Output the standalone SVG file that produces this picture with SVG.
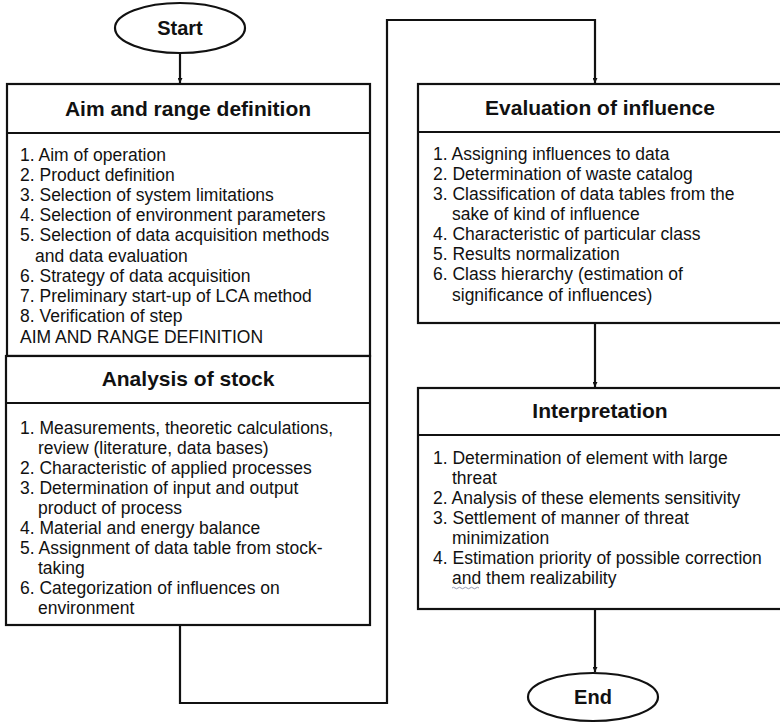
<svg xmlns="http://www.w3.org/2000/svg" width="780" height="724" viewBox="0 0 780 724">
  <defs>
    <marker id="arrow" viewBox="0 0 10 10" refX="10" refY="5" markerWidth="5" markerHeight="5" orient="auto" markerUnits="userSpaceOnUse">
      <path d="M0,0 L10,5 L0,10 Z" fill="#111"/>
    </marker>
  </defs>
  <style>
    .box { fill: #fff; stroke: #111; stroke-width: 2.2; }
    .line { fill: none; stroke: #111; stroke-width: 2.2; }
    .head { font-family: "Liberation Sans", Arial, sans-serif; font-size: 21px; font-weight: bold; fill: #111; text-anchor: middle; }
    .term { font-family: "Liberation Sans", Arial, sans-serif; font-size: 20px; font-weight: bold; fill: #111; text-anchor: middle; }
    .item { font-family: "Liberation Sans", Arial, sans-serif; font-size: 17.5px; fill: #111; }
  </style>
  <rect width="780" height="724" fill="#fff"/>

  <!-- connectors -->
  <g id="connectors">
    <path class="line" d="M180,53 V83" marker-end="url(#arrow)"/>
    <path class="line" d="M180,625 V703 H387 V20 H595 V83" marker-end="url(#arrow)"/>
    <path class="line" d="M595,323 V387" marker-end="url(#arrow)"/>
    <path class="line" d="M595,609 V672" marker-end="url(#arrow)"/>
  </g>

  <!-- start terminal -->
  <g id="start">
    <ellipse class="box" cx="180" cy="28" rx="65" ry="25"/>
    <text class="term" x="180" y="35">Start</text>
  </g>

  <!-- aim and range definition -->
  <g id="aim">
    <rect class="box" x="7" y="84" width="363" height="272"/>
    <line class="line" x1="7" y1="133" x2="370" y2="133"/>
    <text class="head" x="188" y="116">Aim and range definition</text>
    <text class="item" x="20" y="161">1. Aim of operation</text>
    <text class="item" x="20" y="181">2. Product definition</text>
    <text class="item" x="20" y="201">3. Selection of system limitations</text>
    <text class="item" x="20" y="221">4. Selection of environment parameters</text>
    <text class="item" x="20" y="241">5. Selection of data acquisition methods</text>
    <text class="item" x="35" y="262">and data evaluation</text>
    <text class="item" x="20" y="282">6. Strategy of data acquisition</text>
    <text class="item" x="20" y="302">7. Preliminary start-up of LCA method</text>
    <text class="item" x="20" y="322">8. Verification of step</text>
    <text class="item" x="20" y="343">AIM AND RANGE DEFINITION</text>
  </g>

  <!-- analysis of stock -->
  <g id="stock">
    <rect class="box" x="6" y="356" width="364" height="269"/>
    <line class="line" x1="6" y1="403" x2="370" y2="403"/>
    <text class="head" x="188" y="386">Analysis of stock</text>
    <text class="item" x="20" y="434">1. Measurements, theoretic calculations,</text>
    <text class="item" x="38" y="454">review (literature, data bases)</text>
    <text class="item" x="20" y="474">2. Characteristic of applied processes</text>
    <text class="item" x="20" y="494">3. Determination of input and output</text>
    <text class="item" x="38" y="514">product of process</text>
    <text class="item" x="20" y="534">4. Material and energy balance</text>
    <text class="item" x="20" y="554">5. Assignment of data table from stock-</text>
    <text class="item" x="38" y="574">taking</text>
    <text class="item" x="20" y="594">6. Categorization of influences on</text>
    <text class="item" x="38" y="614">environment</text>
  </g>

  <!-- evaluation of influence -->
  <g id="evaluation">
    <rect class="box" x="418" y="84" width="366" height="239"/>
    <line class="line" x1="418" y1="132" x2="784" y2="132"/>
    <text class="head" x="600" y="115">Evaluation of influence</text>
    <text class="item" x="433" y="160">1. Assigning influences to data</text>
    <text class="item" x="433" y="180">2. Determination of waste catalog</text>
    <text class="item" x="433" y="200">3. Classification of data tables from the</text>
    <text class="item" x="452" y="220">sake of kind of influence</text>
    <text class="item" x="433" y="240">4. Characteristic of particular class</text>
    <text class="item" x="433" y="260">5. Results normalization</text>
    <text class="item" x="433" y="280">6. Class hierarchy (estimation of</text>
    <text class="item" x="452" y="301">significance of influences)</text>
  </g>

  <!-- interpretation -->
  <g id="interpretation">
    <rect class="box" x="418" y="388" width="366" height="221"/>
    <line class="line" x1="418" y1="435" x2="784" y2="435"/>
    <text class="head" x="600" y="418">Interpretation</text>
    <text class="item" x="433" y="464">1. Determination of element with large</text>
    <text class="item" x="452" y="484">threat</text>
    <text class="item" x="433" y="504">2. Analysis of these elements sensitivity</text>
    <text class="item" x="433" y="524">3. Settlement of manner of threat</text>
    <text class="item" x="452" y="544">minimization</text>
    <text class="item" x="433" y="564">4. Estimation priority of possible correction</text>
    <text class="item" x="452" y="584">and them realizability</text>
    <path d="M452,588 q1.5,-1.5 3,0 t3,0 t3,0 t3,0 t3,0 t3,0 t3,0 t3,0 t3,0" fill="none" stroke="#8a8fa8" stroke-width="0.9"/>
  </g>

  <!-- end terminal -->
  <g id="end">
    <ellipse class="box" cx="593" cy="697" rx="65" ry="24"/>
    <text class="term" x="593" y="704">End</text>
  </g>
</svg>
